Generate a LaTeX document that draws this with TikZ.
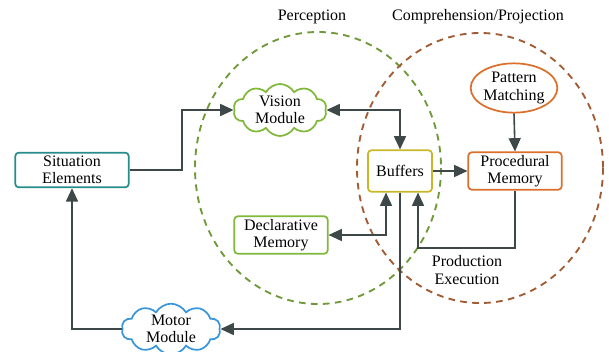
\documentclass[tikz,border=0pt]{standalone}
\usepackage{fontspec}
\setmainfont{Liberation Serif}
\usetikzlibrary{arrows.meta,positioning,shapes.geometric,shapes.symbols}
\definecolor{linegray}{RGB}{62,72,72}
\definecolor{teal}{RGB}{38,140,140}
\definecolor{leaf}{RGB}{128,184,58}
\definecolor{mustard}{RGB}{200,184,40}
\definecolor{rust}{RGB}{218,112,44}
\definecolor{sky}{RGB}{58,150,218}
\definecolor{olive}{RGB}{112,154,58}
\definecolor{clay}{RGB}{162,92,52}
\tikzset{
	arr/.tip={Triangle[length=10pt,width=9pt]},
	conn/.style={draw=linegray,line width=1.2pt},
	-a/.style={-arr},
	aa/.style={arr-arr},
	box/.style={draw,rectangle,rounded corners=2.5pt,line width=1.3pt,align=center,inner sep=1pt},
	puff/.style={draw,cloud,cloud puffs=10,cloud puff arc=120,cloud ignores aspect,line width=1.3pt,align=center,inner sep=-6pt},
	zone/.style={line width=1.4pt,dash pattern=on 5pt off 4pt},
	txt/.style={align=center,font=\fontsize{12}{13}\selectfont}
}
\begin{document}
\begin{tikzpicture}[x=0.75pt,y=-0.75pt,every node/.style={txt}]
	\useasboundingbox (0,0) rectangle (609,351);
	% zones
	\draw[zone,olive] (318,168) ellipse [x radius=123,y radius=136];
	\draw[zone,clay] (480,168) ellipse [x radius=123,y radius=135];
	\node (perc) at (312,17) {Perception};
	\node (comp) at (478,17) {Comprehension/Projection};
	% modules
	\node[box,draw=teal,minimum width=85pt,minimum height=26pt] (sit) at (72,170) {Situation\\Elements};
	\node[puff,draw=leaf,minimum width=70pt,minimum height=39pt] (vis) at (280,110) {Vision\\Module};
	\node[box,draw=mustard,minimum width=48pt,minimum height=31pt] (buf) at (400,171) {Buffers};
	\node[box,draw=rust,minimum width=70pt,minimum height=28pt] (proc) at (515,171) {Procedural\\Memory};
	\node[ellipse,draw=rust,line width=1.3pt,minimum width=62pt,minimum height=37pt,inner sep=0pt] (pat) at (514,88) {Pattern\\Matching};
	\node[box,draw=leaf,minimum width=70pt,minimum height=28pt] (dec) at (281,235) {Declarative\\Memory};
	\node[puff,draw=sky,minimum width=74pt,minimum height=38pt] (mot) at (171,329) {Motor\\Module};
	\node (prod) at (467,270) {Production\\Execution};
	% bends
	\coordinate (sj) at (182,109);
	\coordinate (pj) at (418,248);
	\coordinate (dj) at (386,236);
	% connectors
	\draw[conn,-a] (sit.east) -| (sj) |- (vis.west);
	\draw[conn,aa] (vis.east) -| (buf.north);
	\draw[conn,-a] (buf.east) -- (proc.west);
	\draw[conn,-a] (pat.south) -- (proc.north);
	\draw[conn,-a] (proc.south) |- (pj) -- (buf.south -| pj);
	\draw[conn,aa] (dec.east) -| (buf.south -| dj);
	\draw[conn,-a] (buf.south) |- (mot.east);
	\draw[conn,-a] (mot.west) -| (sit.south);
\end{tikzpicture}
\end{document}
